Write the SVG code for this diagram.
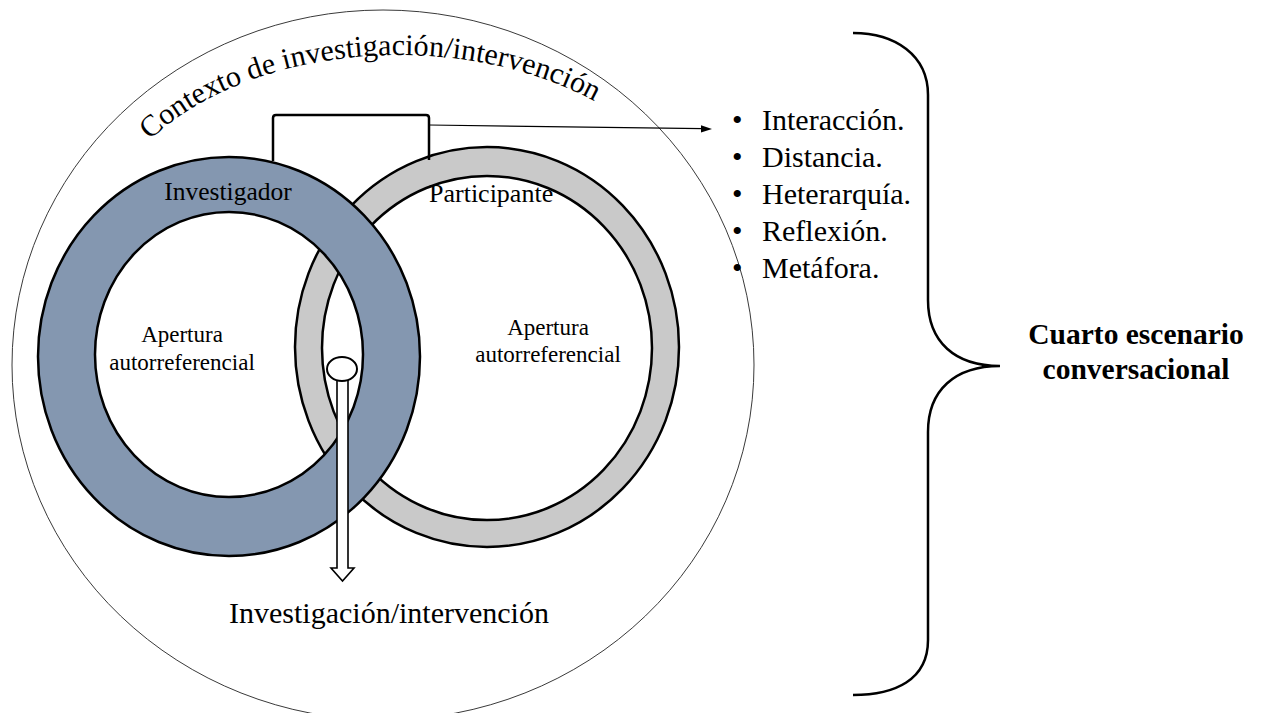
<svg xmlns="http://www.w3.org/2000/svg" width="1264" height="713" viewBox="0 0 1264 713">
<style>
.serif{font-family:"Liberation Serif","Times New Roman",serif;fill:#000}
.ring{stroke:#000;stroke-width:2.5;fill-rule:evenodd}
.line{fill:none;stroke:#000}
</style>
<defs>
<path id="arcText" d="M150,140 A300,192 0 0 1 630,124.5"/>
</defs>
<rect x="0" y="0" width="1264" height="713" fill="#fff"/>
<g id="context">
<ellipse cx="383" cy="365" rx="371" ry="355" fill="none" stroke="#3a3a3a" stroke-width="1"/>
<text class="serif" font-size="30"><textPath href="#arcText">Contexto de investigación/intervención</textPath></text>
</g>
<g id="participante">
<path class="ring" fill="#C9C9C9" d="M295,347 A192,200 0 1 0 679,347 A192,200 0 1 0 295,347 Z M322,348 A165,172 0 1 0 652,348 A165,172 0 1 0 322,348 Z"/>
<text class="serif" font-size="26" x="429" y="202">Participante</text>
<text class="serif" font-size="23" x="548" y="335" text-anchor="middle">Apertura</text>
<text class="serif" font-size="23" x="548" y="362" text-anchor="middle">autorreferencial</text>
</g>
<g id="investigador">
<path class="ring" fill="#8497B0" d="M38,356.5 A191,199.5 0 1 0 420,356.5 A191,199.5 0 1 0 38,356.5 Z M95,354.5 A134,142.5 0 1 0 363,354.5 A134,142.5 0 1 0 95,354.5 Z"/>
<text class="serif" font-size="25.5" x="228" y="200" text-anchor="middle">Investigador</text>
<text class="serif" font-size="23" x="182" y="342" text-anchor="middle">Apertura</text>
<text class="serif" font-size="23" x="182" y="370" text-anchor="middle">autorreferencial</text>
</g>
<g id="connectors">
<path class="line" stroke-width="2.5" d="M273,161 V118 Q273,115 276,115 H426 Q429,115 429,118 V160"/>
<line class="line" stroke-width="1.2" x1="429" y1="125" x2="703" y2="128.7"/>
<polygon points="712,129 701,125.3 701,132.5" fill="#000"/>
<path d="M337,380 V568 H331 L342.5,581 L354,568 H348 V380 Z" fill="#fff" stroke="#000" stroke-width="1.6"/>
<ellipse cx="342" cy="369" rx="15" ry="12" fill="#fff" stroke="#000" stroke-width="2"/>
<path class="line" stroke-width="2.5" d="M853,33 C895,33 928,55 928,95 L928,300 C928,342 955,366 1000,366 C955,366 928,390 928,432 L928,640 C928,680 895,695 853,695"/>
</g>
<g id="result">
<text class="serif" font-size="30" x="389" y="623" text-anchor="middle">Investigación/intervención</text>
</g>
<g id="features" class="serif" font-size="30">
<text x="732" y="130">•</text><text x="762" y="130">Interacción.</text>
<text x="732" y="167">•</text><text x="762" y="167">Distancia.</text>
<text x="732" y="204">•</text><text x="762" y="204">Heterarquía.</text>
<text x="732" y="241">•</text><text x="762" y="241">Reflexión.</text>
<text x="732" y="278">•</text><text x="762" y="278">Metáfora.</text>
</g>
<g id="escenario">
<text class="serif" font-size="29.5" font-weight="bold" x="1136" y="344" text-anchor="middle">Cuarto escenario</text>
<text class="serif" font-size="29.5" font-weight="bold" x="1136" y="379" text-anchor="middle">conversacional</text>
</g>
</svg>
